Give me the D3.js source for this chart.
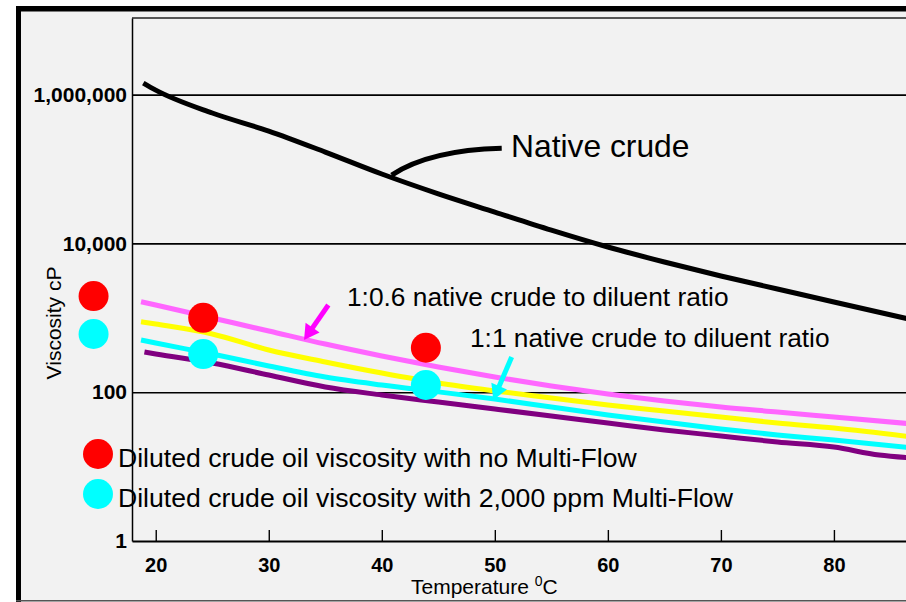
<!DOCTYPE html>
<html>
<head>
<meta charset="utf-8">
<script src="https://cdn.jsdelivr.net/npm/d3@7"></script>
<style>
  html, body { margin: 0; padding: 0; background: #ffffff; }
  svg { display: block; font-family: "Liberation Sans", Arial, Helvetica, sans-serif; }
</style>
</head>
<body>
<svg id="chart" width="906" height="602"></svg>
<script>
// ---- Data -------------------------------------------------------------
// Native (undiluted) crude viscosity, cP, by temperature (°C)
const nativeTemps = [18.9, 20, 25, 30, 35, 40, 45, 50, 55, 60, 65, 70, 75, 80, 87];
const nativeVisc  = [1430000, 1150000, 566000, 324000, 169000, 85700, 46400, 26400, 15100, 8950, 5620, 3650, 2440, 1630, 934];

// Diluted blends, cP
const blendTemps   = [18.7, 20, 25, 30, 35, 40, 45, 50, 55, 60, 65, 70, 75, 80, 87];
const ratio06Visc  = [1646, 1486, 994, 665, 444, 307, 218, 160, 121, 94.6, 76.2, 63.2, 54.2, 46.4, 37.4];
const yellowVisc   = [886, 825, 606, 369, 255, 181, 133, 104, 83.6, 67.3, 55.9, 46.4, 38.5, 33.0, 25.0];
const ratio1Visc   = [503, 458, 326, 225, 160, 125, 101, 81, 63.2, 49.4, 39.8, 32.0, 26.6, 22.8, 17.8];
const purpleTemps  = [19, 20, 25, 30, 35, 40, 45, 50, 55, 60, 65, 70, 75, 80, 84, 87];
const purpleVisc   = [347, 326, 247, 170, 117.5, 91.7, 73.8, 59.5, 47.9, 38.5, 31.0, 25.8, 21.4, 18.3, 14.3, 13.0];

// Measured diluted-crude samples
const sampleTemps      = [14.5, 24.2, 43.9];
const noAdditiveVisc   = [1960, 1000, 396];
const withAdditiveVisc = [606, 326, 125];

// Axes and legend text
const xTicks      = [20, 30, 40, 50, 60, 70, 80];
const yLabelTicks = [1, 100, 10000, 1000000];
const yGridTicks  = [100, 10000, 1000000];
const legendLabels = [
  "Diluted crude oil viscosity with no Multi-Flow",
  "Diluted crude oil viscosity with 2,000 ppm Multi-Flow"
];

// ---- Layout -------------------------------------------------------------
const W = 906, H = 602;
const plot = { left: 132, top: 18, bottom: 541, right: 930 };
const svg = d3.select("#chart");

const x = d3.scaleLinear().domain([17.9, 88.5]).range([plot.left, plot.right]);
const y = d3.scaleLog().domain([1, Math.pow(10, 7.03)]).range([plot.bottom, plot.top]);

const zip = (a, b) => a.map((v, i) => [v, b[i]]);

// ---- Frame ---------------------------------------------------------------
svg.append("rect").attr("x", 16).attr("y", 6).attr("width", W).attr("height", H)
  .attr("fill", "#f2f2f2");
svg.append("line").attr("x1", 18.5).attr("x2", 18.5).attr("y1", 6).attr("y2", H)
  .attr("stroke", "#000").attr("stroke-width", 5);
svg.append("line").attr("x1", 16).attr("x2", W).attr("y1", 8.8).attr("y2", 8.8)
  .attr("stroke", "#000").attr("stroke-width", 5.5);
svg.append("line").attr("x1", 16).attr("x2", W).attr("y1", 600.7).attr("y2", 600.7)
  .attr("stroke", "#555").attr("stroke-width", 1.6);

// top edge of the plotting area
svg.append("line").attr("x1", plot.left).attr("x2", W).attr("y1", plot.top).attr("y2", plot.top)
  .attr("stroke", "#222").attr("stroke-width", 1.5);

// ---- Gridlines -------------------------------------------------------------
const grid = svg.append("g").attr("transform", `translate(${plot.left},0)`)
  .call(d3.axisLeft(y).tickValues(yGridTicks).tickSize(-(plot.right - plot.left)).tickFormat(""));
grid.select(".domain").remove();
grid.selectAll(".tick line").attr("stroke", "#000").attr("stroke-width", 1.6);

// ---- Y axis ----------------------------------------------------------------
const yAxis = svg.append("g").attr("transform", `translate(${plot.left},0)`)
  .call(d3.axisLeft(y).tickValues(yLabelTicks).tickSize(0).tickSizeOuter(0)
    .tickPadding(5).tickFormat(d3.format(",")));
yAxis.select(".domain").attr("stroke", "#000").attr("stroke-width", 1.5);
yAxis.selectAll("text").attr("font-size", 21).attr("font-weight", "bold")
  .attr("fill", "#000").attr("font-family", "Liberation Sans, Arial, sans-serif");

svg.append("text")
  .attr("transform", `translate(61,323) rotate(-90)`)
  .attr("text-anchor", "middle").attr("font-size", 21).attr("fill", "#000")
  .text("Viscosity cP");

// ---- X axis ----------------------------------------------------------------
const xAxis = svg.append("g").attr("transform", `translate(0,${plot.bottom})`)
  .call(d3.axisBottom(x).tickValues(xTicks).tickSize(-11).tickSizeOuter(0).tickPadding(17));
xAxis.select(".domain").attr("stroke", "#000").attr("stroke-width", 2);
xAxis.selectAll(".tick line").attr("stroke", "#000").attr("stroke-width", 1.4);
xAxis.selectAll("text").attr("font-size", 20).attr("font-weight", "bold")
  .attr("fill", "#000").attr("font-family", "Liberation Sans, Arial, sans-serif");

const xTitle = svg.append("text").attr("x", 411).attr("y", 594)
  .attr("font-size", 21).attr("fill", "#000");
xTitle.append("tspan").text("Temperature ");
xTitle.append("tspan").attr("font-size", 14).attr("dy", -8).text("0");
xTitle.append("tspan").attr("dy", 8).text("C");

// ---- Curves ----------------------------------------------------------------
svg.append("clipPath").attr("id", "plotClip").append("rect")
  .attr("x", plot.left).attr("y", plot.top)
  .attr("width", plot.right - plot.left).attr("height", plot.bottom - plot.top);

const line = d3.line().x(d => x(d[0])).y(d => y(d[1])).curve(d3.curveMonotoneX);
const curves = svg.append("g").attr("clip-path", "url(#plotClip)");

const series = [
  { data: zip(nativeTemps, nativeVisc), color: "#000000" },
  { data: zip(blendTemps, ratio06Visc), color: "#ff66ff" },
  { data: zip(blendTemps, yellowVisc), color: "#ffff00" },
  { data: zip(blendTemps, ratio1Visc), color: "#00ffff" },
  { data: zip(purpleTemps, purpleVisc), color: "#800080" }
];
curves.selectAll("path.curve").data(series).join("path")
  .attr("class", "curve")
  .attr("d", d => line(d.data))
  .attr("fill", "none")
  .attr("stroke", d => d.color)
  .attr("stroke-width", 5);

// ---- Annotations -------------------------------------------------------------
// leader from the "Native crude" label to its curve
const lp0 = [x(40.87), y(83000)], lpc = [x(44.26), y(180000)], lp1 = [x(50.61), y(190000)];
svg.append("path")
  .attr("d", `M${lp0[0]},${lp0[1]} Q${lpc[0]},${lpc[1]} ${lp1[0]},${lp1[1]}`)
  .attr("fill", "none").attr("stroke", "#000").attr("stroke-width", 5);
svg.append("text").attr("x", x(51.43)).attr("y", y(145000))
  .attr("font-size", 31.8).attr("fill", "#000").text("Native crude");

function arrow(t0, v0, t1, v1, color) {
  const sx = x(t0), sy = y(v0), ex = x(t1), ey = y(v1);
  const dx = ex - sx, dy = ey - sy, len = Math.hypot(dx, dy);
  const ux = dx / len, uy = dy / len, headLen = 15, halfW = 8.5;
  const bx = ex - ux * headLen, by = ey - uy * headLen;
  svg.append("line").attr("x1", sx).attr("y1", sy).attr("x2", bx + ux * 2).attr("y2", by + uy * 2)
    .attr("stroke", color).attr("stroke-width", 5);
  svg.append("polygon")
    .attr("points", [[ex, ey], [bx - uy * halfW, by + ux * halfW], [bx + uy * halfW, by - ux * halfW]]
      .map(p => p.join(",")).join(" "))
    .attr("fill", color);
}
arrow(35.27, 1486, 33.12, 503, "#ff00ff");
arrow(51.49, 297, 49.86, 78.6, "#00ffff");

svg.append("text").attr("x", x(36.92)).attr("y", y(1442))
  .attr("font-size", 26.3).attr("fill", "#000").text("1:0.6 native crude to diluent ratio");
svg.append("text").attr("x", x(47.8)).attr("y", y(405))
  .attr("font-size", 26.3).attr("fill", "#000").text("1:1 native crude to diluent ratio");

// ---- Sample points -------------------------------------------------------------
svg.append("g").selectAll("circle").data(zip(sampleTemps, noAdditiveVisc)).join("circle")
  .attr("cx", d => x(d[0])).attr("cy", d => y(d[1])).attr("r", 15).attr("fill", "#ff0000");
svg.append("g").selectAll("circle").data(zip(sampleTemps, withAdditiveVisc)).join("circle")
  .attr("cx", d => x(d[0])).attr("cy", d => y(d[1])).attr("r", 15).attr("fill", "#00ffff");

// ---- Legend ----------------------------------------------------------------
const legendColors = ["#ff0000", "#00ffff"];
const legend = svg.append("g");
legendLabels.forEach((label, i) => {
  const cy = 454 + i * 40;
  legend.append("circle").attr("cx", 98).attr("cy", cy).attr("r", 15).attr("fill", legendColors[i]);
  legend.append("text").attr("x", 118).attr("y", cy + 12.5)
    .attr("font-size", 26.6).attr("fill", "#000").text(label);
});
</script>
</body>
</html>
